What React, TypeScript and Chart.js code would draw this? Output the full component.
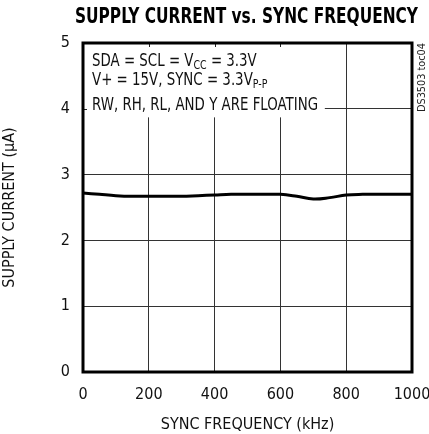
import React, { useEffect, useRef } from "react";
import { Chart, registerables } from "chart.js";

Chart.register(...registerables);

const frequencyKHz = [0, 50, 100, 150, 200, 250, 300, 350, 400, 450, 500, 550, 600, 650, 700, 750, 800, 850, 900, 950, 1000];
const supplyCurrentUA = [2.72, 2.70, 2.68, 2.67, 2.67, 2.67, 2.67, 2.68, 2.69, 2.70, 2.70, 2.70, 2.70, 2.67, 2.63, 2.65, 2.69, 2.70, 2.70, 2.70, 2.70];
const xTickValues = [0, 200, 400, 600, 800, 1000];
const yTickValues = [0, 1, 2, 3, 4, 5];

const titleText = "SUPPLY CURRENT vs. SYNC FREQUENCY";
const xTitle = "SYNC FREQUENCY (kHz)";
const yTitle = "SUPPLY CURRENT (\u00B5A)";
const watermark = "DS3503 toc04";

const FONT = "'Liberation Sans Narrow', 'DejaVu Sans Condensed', 'Roboto', sans-serif";

function fitText(ctx: CanvasRenderingContext2D, text: string, x: number, y: number, width: number) {
  const w = ctx.measureText(text).width;
  ctx.save();
  ctx.translate(x, y);
  ctx.scale(width / w, 1);
  ctx.fillText(text, 0, 0);
  ctx.restore();
}

const decorPlugin = {
  id: "decor",
  beforeDatasetsDraw(chart: any) {
    const { ctx, chartArea } = chart;
    const xs = chart.scales.x;
    const ys = chart.scales.y;
    ctx.save();
    // white box behind the annotation
    const bx2 = xs.getPixelForValue(735);
    const by2 = ys.getPixelForValue(3.87);
    ctx.fillStyle = "#fff";
    ctx.fillRect(chartArea.left, chartArea.top, bx2 - chartArea.left, by2 - chartArea.top);
    // small inner ticks
    ctx.strokeStyle = "#222";
    ctx.lineWidth = 1;
    [200, 400, 600].forEach((v) => {
      const px = Math.round(xs.getPixelForValue(v)) + 0.5;
      ctx.beginPath();
      ctx.moveTo(px, chartArea.top);
      ctx.lineTo(px, chartArea.top + 4);
      ctx.stroke();
    });
    const py4 = Math.round(ys.getPixelForValue(4)) + 0.5;
    ctx.beginPath();
    ctx.moveTo(chartArea.left, py4);
    ctx.lineTo(chartArea.left + 4, py4);
    ctx.stroke();

    // annotation text
    ctx.fillStyle = "#111";
    ctx.textBaseline = "alphabetic";
    ctx.textAlign = "left";
    const x0 = 92;
    const big = "17px " + FONT;
    const small = "12px " + FONT;
    ctx.font = big;
    const line3 = "RW, RH, RL, AND Y ARE FLOATING";
    const k = 226 / ctx.measureText(line3).width;
    const drawParts = (parts: [string, boolean][], y: number) => {
      let x = 0;
      ctx.save();
      ctx.translate(x0, y);
      ctx.scale(k, 1);
      parts.forEach(([t, sub]) => {
        ctx.font = sub ? small : big;
        ctx.fillText(t, x, sub ? 3 : 0);
        x += ctx.measureText(t).width;
      });
      ctx.restore();
    };
    drawParts([["SDA = SCL = V", false], ["CC", true], [" = 3.3V", false]], 66);
    drawParts([["V+ = 15V, SYNC = 3.3V", false], ["P-P", true]], 85);
    drawParts([[line3, false]], 110);
    ctx.restore();
  },
  afterDraw(chart: any) {
    const { ctx, chartArea } = chart;
    ctx.save();
    // frame
    ctx.strokeStyle = "#000";
    ctx.lineWidth = 3;
    ctx.strokeRect(chartArea.left, chartArea.top, chartArea.right - chartArea.left, chartArea.bottom - chartArea.top);
    // title
    ctx.fillStyle = "#000";
    ctx.font = "bold 21px " + FONT;
    ctx.textBaseline = "alphabetic";
    ctx.textAlign = "left";
    fitText(ctx, titleText, 75, 23, 343);
    // watermark
    ctx.font = "10px " + FONT;
    ctx.fillStyle = "#222";
    ctx.save();
    ctx.translate(425, 112);
    ctx.rotate(-Math.PI / 2);
    const w = ctx.measureText(watermark).width;
    ctx.scale(69 / w, 1);
    ctx.fillText(watermark, 0, 0);
    ctx.restore();
    ctx.restore();
  },
};

export default function App() {
  const ref = useRef<HTMLCanvasElement>(null);
  useEffect(() => {
    if (!ref.current) return;
    const chart = new Chart(ref.current, {
      type: "line",
      data: {
        datasets: [
          {
            data: frequencyKHz.map((x, i) => ({ x, y: supplyCurrentUA[i] })),
            borderColor: "#000",
            borderWidth: 3,
            pointRadius: 0,
            tension: 0.4,
            fill: false,
          },
        ],
      },
      options: {
        responsive: false,
        animation: false,
        layout: { padding: { top: 43, right: 17, left: 0, bottom: 0 } },
        plugins: { legend: { display: false }, tooltip: { enabled: false }, title: { display: false } },
        scales: {
          x: {
            type: "linear",
            min: 0,
            max: 1000,
            afterBuildTicks: (s: any) => {
              s.ticks = xTickValues.map((v) => ({ value: v }));
            },
            afterFit: (s: any) => {
              s.height = 62;
              s.paddingLeft = 0;
              s.paddingRight = 0;
            },
            grid: { color: "#333", lineWidth: 1, drawTicks: false },
            border: { display: false },
            ticks: { color: "#111", font: { family: FONT, size: 16 }, padding: 13, maxRotation: 0, callback: (v: any) => String(v) },
            title: { display: true, text: xTitle, color: "#111", font: { family: FONT, size: 16 }, padding: { top: 2, bottom: 0 } },
          },
          y: {
            type: "linear",
            min: 0,
            max: 5,
            afterBuildTicks: (s: any) => {
              s.ticks = yTickValues.map((v) => ({ value: v }));
            },
            afterFit: (s: any) => {
              s.width = 83;
              s.paddingTop = 0;
              s.paddingBottom = 0;
            },
            grid: { color: "#333", lineWidth: 1, drawTicks: false },
            border: { display: false },
            ticks: { color: "#111", font: { family: FONT, size: 16 }, padding: 13, callback: (v: any) => String(v) },
            title: { display: true, text: yTitle, color: "#111", font: { family: FONT, size: 16 }, padding: { top: 0, bottom: 0 } },
          },
        },
      },
      plugins: [decorPlugin],
    } as any);
    return () => chart.destroy();
  }, []);
  return (
    <div style={{ position: "fixed", left: 0, top: 0, width: 429, height: 434, background: "#fff" }}>
      <canvas ref={ref} width={429} height={434} />
    </div>
  );
}
